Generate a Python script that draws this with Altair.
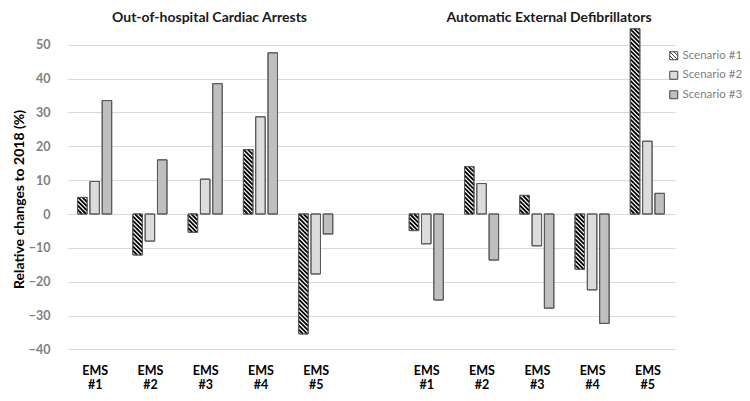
import json
import altair as alt
import pandas as pd

# ---------------- data ----------------
panel_titles = ["Out-of-hospital Cardiac Arrests", "Automatic External Defibrillators"]
ems_labels = ["EMS #1", "EMS #2", "EMS #3", "EMS #4", "EMS #5"]
scenarios = ["Scenario #1", "Scenario #2", "Scenario #3"]

ohca_s1 = [4.9, -12.1, -5.4, 19.0, -35.4]
ohca_s2 = [9.6, -8.0, 10.3, 28.7, -17.7]
ohca_s3 = [33.5, 16.0, 38.5, 47.6, -5.9]

aed_s1 = [-4.9, 14.0, 5.5, -16.3, 54.7]
aed_s2 = [-8.8, 9.0, -9.4, -22.4, 21.5]
aed_s3 = [-25.4, -13.6, -27.8, -32.3, 6.1]

y_ticks = [-40, -30, -20, -10, 0, 10, 20, 30, 40, 50]

# ---------------- layout constants ----------------
W, H = 608, 342
X_DOM = [-0.5, 10.5]
Y_DOM = [-44, 57]
PX_X = W / (X_DOM[1] - X_DOM[0])
PX_Y = H / (Y_DOM[1] - Y_DOM[0])
BAR_PX = 9.5
HW = BAR_PX / 2 / PX_X          # half bar width in x units
PITCH = 12.3 / PX_X             # bar-to-bar distance in x units
D = BAR_PX / PX_Y               # 45 degree drop across a bar (y units)
P = 4.3 / PX_Y                  # hatch period (y units)
FONT = "Lato"

rows = []
for panel, (series, offset) in enumerate([((ohca_s1, ohca_s2, ohca_s3), 0),
                                          ((aed_s1, aed_s2, aed_s3), 6)]):
    for si, vals in enumerate(series):
        for ci, v in enumerate(vals):
            rows.append({"cat": ci + offset, "sidx": si,
                         "scenario": scenarios[si], "value": v})
df = pd.DataFrame(rows)

tick_vals = [i for i in range(5)] + [i + 6 for i in range(5)]
label_arr = ems_labels + [""] + ems_labels
label_expr = f"split({json.dumps(label_arr)}[datum.value], ' ')"

xscale = alt.Scale(domain=X_DOM, nice=False, zero=False)
yscale = alt.Scale(domain=Y_DOM, nice=False, zero=False)

x_axis = alt.Axis(values=tick_vals, labelExpr=label_expr, grid=False,
                  domain=False, ticks=False, labelFont=FONT,
                  labelFontSize=12.5, labelFontWeight="bold",
                  labelColor="#000000", labelLineHeight=14,
                  labelPadding=1, labelAlign="center",
                  labelBaseline="top", labelFlush=False,
                  labelOverlap=False)
y_axis = alt.Axis(values=y_ticks, grid=True, gridColor="#d9d9d9",
                  domain=False, ticks=False, labelFont=FONT,
                  labelFontSize=12.5, labelFontWeight="bold",
                  labelColor="#808080", labelPadding=17,
                  titleFont=FONT, titleFontSize=14,
                  titleFontWeight="bold", titleColor="#000000",
                  titleX=-48, titleY=178, titleAngle=270,
                  titleAlign="center", titleBaseline="middle")
Y_TITLE = "Relative changes to 2018 (%)"

fill_scale = alt.Scale(domain=scenarios, range=["#ffffff", "#dcdcdc", "#bfbfbf"])
sym_sq = "M-1,-1H1V1H-1Z"
sym_hatch = sym_sq + "M-1,-1L1,1M0,-1L1,0M-1,0L0,1"
shape_scale = alt.Scale(domain=scenarios, range=[sym_hatch, sym_sq, sym_sq])

legend = alt.Legend(title=None, orient="none", legendX=601, legendY=29,
                    labelFont=FONT, labelFontSize=11.5, labelColor="#7f7f7f",
                    labelOffset=3, rowPadding=6.5, symbolSize=64,
                    labelLimit=200,
                    symbolStrokeColor="#404040", symbolStrokeWidth=1)


def X(field):
    return alt.X(field, scale=xscale, axis=x_axis, title=None)


def Y(field):
    return alt.Y(field, scale=yscale, axis=y_axis, title=Y_TITLE)


base = alt.Chart(df).transform_calculate(
    xc=f"datum.cat + (datum.sidx - 1) * {PITCH}",
    xl=f"datum.xc - {HW}",
    xr=f"datum.xc + {HW}",
)

bars = base.mark_rect(stroke="#595959", strokeWidth=1).encode(
    x=X("xl:Q"),
    x2="xr:Q",
    y=Y("value:Q"),
    y2=alt.datum(0),
    fill=alt.Fill("scenario:N", scale=fill_scale, legend=legend),
)

hatch = base.transform_filter("datum.sidx == 0").transform_calculate(
    ybot="min(datum.value, 0)",
    ytop="max(datum.value, 0)",
    ks=f"sequence(0, ceil((datum.ytop - datum.ybot + {D}) / {P}) + 1)",
).transform_flatten(["ks"]).transform_calculate(
    yk=f"datum.ybot + datum.ks * {P}",
    t0=f"max(0, (datum.yk - datum.ytop) / {D})",
    t1=f"min(1, (datum.yk - datum.ybot) / {D})",
).transform_filter("datum.t1 > datum.t0").transform_calculate(
    hx1="datum.xl + datum.t0 * (datum.xr - datum.xl)",
    hy1=f"datum.yk - datum.t0 * {D}",
    hx2="datum.xl + datum.t1 * (datum.xr - datum.xl)",
    hy2=f"datum.yk - datum.t1 * {D}",
).mark_rule(color="#000000", strokeWidth=1.8).encode(
    x=X("hx1:Q"),
    y=Y("hy1:Q"),
    x2="hx2:Q",
    y2="hy2:Q",
)

outline = base.mark_rect(stroke="#595959", strokeWidth=1, fillOpacity=0).encode(
    x=X("xl:Q"),
    x2="xr:Q",
    y=Y("value:Q"),
    y2=alt.datum(0),
)

legend_pts = base.transform_filter("false").mark_point(
    filled=True, size=64, stroke="#404040", strokeWidth=1, opacity=1
).encode(
    x=X("xc:Q"),
    y=Y("value:Q"),
    fill=alt.Fill("scenario:N", scale=fill_scale, legend=legend),
    shape=alt.Shape("scenario:N", scale=shape_scale, legend=legend),
)

title_df = pd.DataFrame({"title": panel_titles})
title_x_px = [142.5, 482]
title_df["tx"] = title_x_px
titles = alt.Chart(title_df).mark_text(
    font=FONT, fontSize=14, fontWeight="bold", color="#1a1a1a",
    align="center", baseline="middle"
).encode(
    x=alt.X("tx:Q", scale=None),
    y=alt.value(-3),
    text="title:N",
)

chart = alt.layer(bars, hatch, outline, legend_pts, titles).properties(
    width=W, height=H,
    autosize=alt.AutoSizeParams(type="none"),
    padding={"left": 59, "top": 13, "right": 67, "bottom": 30},
).configure(font=FONT).configure_view(stroke=None)

chart.save("out.html", embed_options={"renderer": "svg", "actions": False})
